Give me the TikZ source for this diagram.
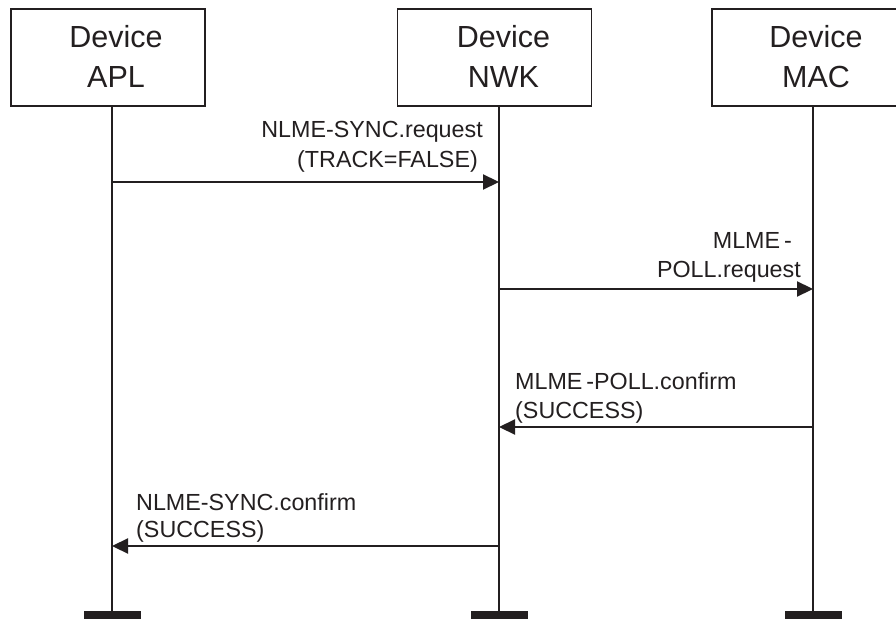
\documentclass[tikz,border=0pt]{standalone}
\usepackage{fontspec}
\setmainfont{Liberation Sans}
\usetikzlibrary{arrows.meta}
\definecolor{ink}{RGB}{35,31,32}
\begin{document}
\begin{tikzpicture}[x=1pt,y=-1pt,
  devbox/.style={draw=ink,line width=1.5pt,minimum width=194pt,minimum height=97pt,inner sep=0pt},
  devtext/.style={text=ink,font=\fontsize{30.5}{39}\selectfont,inner sep=0pt,anchor=base},
  lbl/.style={text=ink,font=\fontsize{23.3}{30}\selectfont,inner sep=0pt},
  lifeline/.style={draw=ink,line width=1.5pt},
  endbar/.style={fill=ink,minimum width=57pt,minimum height=8pt,inner sep=0pt},
  msg/.style={draw=ink,line width=2.2pt,-{Triangle[length=16pt,width=15pt]}}]
\clip (0,0) rectangle (896,620);
\fill[white] (0,0) rectangle (896,620);
% lifeline heads
\node[devbox] (apl) at (108,57.5) {};
\node[devbox] (nwk) at (494.5,57.5) {};
\node[devbox] (mac) at (809,57.5) {};
\node[devtext] (apl1) at (116,48) {Device};
\node[devtext] (apl2) at (116,87.5) {APL};
\node[devtext] (nwk1) at (503.5,48) {Device};
\node[devtext] (nwk2) at (503.5,87.5) {NWK};
\node[devtext] (mac1) at (816,48) {Device};
\node[devtext] (mac2) at (816,87.5) {MAC};
% end bars
\node[endbar] (aplbar) at (112.5,615) {};
\node[endbar] (nwkbar) at (499.5,615) {};
\node[endbar] (macbar) at (813.5,615) {};
% lifelines
\draw[lifeline] (apl.south -| 112,0) -- (aplbar.north -| 112,0);
\draw[lifeline] (nwk.south -| 499,0) -- (nwkbar.north -| 499,0);
\draw[lifeline] (mac.south -| 813,0) -- (macbar.north -| 813,0);
% message end points
\coordinate (a1) at (112,182);
\coordinate (n1) at (499,182);
\coordinate (n2) at (499,289);
\coordinate (m2) at (813,289);
\coordinate (m3) at (813,427);
\coordinate (n3) at (499,427);
\coordinate (n4) at (499,546);
\coordinate (a4) at (112,546);
% messages
\draw[msg] (a1) -- (n1);
\draw[msg] (n2) -- (m2);
\draw[msg] (m3) -- (n3);
\draw[msg] (n4) -- (a4);
% labels
\node[lbl,anchor=base east] (l1a) at (483,138) {NLME-SYNC.request};
\node[lbl,anchor=base east] (l1b) at (478,168) {(TRACK=FALSE)};
\node[lbl,anchor=base east] (l2a) at (792,248) {MLME\,-};
\node[lbl,anchor=base east] (l2b) at (801,277) {POLL.request};
\node[lbl,anchor=base west] (l3a) at (515,389) {MLME\,-POLL.confirm};
\node[lbl,anchor=base west] (l3b) at (515,418) {(SUCCESS)};
\node[lbl,anchor=base west] (l4a) at (136,510) {NLME-SYNC.confirm};
\node[lbl,anchor=base west] (l4b) at (136,537) {(SUCCESS)};
\end{tikzpicture}
\end{document}
